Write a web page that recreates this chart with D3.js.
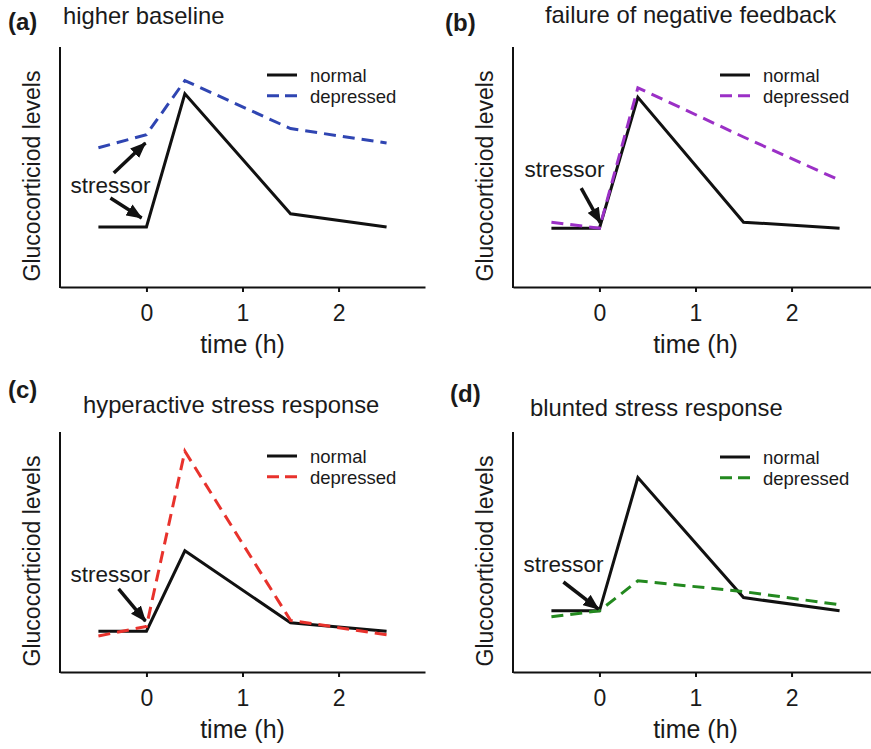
<!DOCTYPE html>
<html>
<head>
<meta charset="utf-8">
<script src="https://cdn.jsdelivr.net/npm/d3@7"></script>
<style>
  body { margin: 0; background: #fff; }
  text { font-family: "Liberation Sans", Arial, sans-serif; fill: #1a1a1a; }
</style>
</head>
<body>
<div id="chart"></div>
<script>
// time points (h) shared by every curve
const times = [-0.5, 0, 0.4, 1.5, 2.5]
const xTicks = [0, 1, 2]

const panelLabels = ['(a)', '(b)', '(c)', '(d)']
const panelTitles = ['higher baseline', 'failure of negative feedback',
  'hyperactive stress response', 'blunted stress response']
const seriesNames = ['normal', 'depressed']

// glucocorticoid levels (arbitrary units 0-10)
const normalA = [2.5, 2.5, 8.05, 3.05, 2.5]
const depressedA = [5.8, 6.35, 8.6, 6.6, 6.0]
const normalB = [2.45, 2.45, 7.9, 2.7, 2.45]
const depressedB = [2.7, 2.45, 8.3, 6.25, 4.45]
const normalC = [1.7, 1.7, 5.05, 2.05, 1.7]
const depressedC = [1.5, 1.9, 9.2, 2.15, 1.55]
const normalD = [2.55, 2.55, 8.1, 3.1, 2.55]
const depressedD = [2.3, 2.55, 3.8, 3.35, 2.8]

const depressedColors = ['#2f45b2', '#9b30c6', '#e8322c', '#23891f']

// stressor arrows: [tailTime, tailLevel, tipTime, tipLevel]
const arrowsA = [[-0.34, 4.75, -0.01, 6.0], [-0.375, 3.71, -0.05, 2.875]]
const arrowsB = [[-0.19, 4.12, 0.01, 2.67]]
const arrowsC = [[-0.29, 3.46, -0.01, 2.12]]
const arrowsD = [[-0.375, 3.75, -0.01, 2.62]]
// "stressor" label anchor: [time, level]
const stressorPos = [[-0.79, 3.92], [-0.78, 4.58], [-0.79, 3.75], [-0.79, 4.17]]

const normals = [normalA, normalB, normalC, normalD]
const depresseds = [depressedA, depressedB, depressedC, depressedD]
const arrows = [arrowsA, arrowsB, arrowsC, arrowsD]

// layout: origin = top of y axis
const layout = [
  {x: 60, y: 47, lab: [-52, -17], title: [3, -23], legY: 28},
  {x: 513, y: 47, lab: [-68, -16], title: [32, -24], legY: 28},
  {x: 60, y: 432, lab: [-52, -34], title: [23, -19], legY: 24},
  {x: 513, y: 432, lab: [-63, -30], title: [17, -16], legY: 25}
]

const W = 871, H = 749
const plotW = 365, plotH = 240
const legGap = 20.8

const svg = d3.select('#chart').append('svg')
  .attr('width', W).attr('height', H)

svg.append('rect').attr('width', W).attr('height', H).attr('fill', '#fff')

svg.append('defs').append('marker')
  .attr('id', 'head')
  .attr('markerUnits', 'userSpaceOnUse')
  .attr('viewBox', '0 0 16 13')
  .attr('refX', 15).attr('refY', 6.5)
  .attr('markerWidth', 16).attr('markerHeight', 13)
  .attr('orient', 'auto')
  .append('path')
  .attr('d', 'M0,0 L16,6.5 L0,13 Z')
  .attr('fill', '#111')

const x = d3.scaleLinear().domain([-0.9, 2.9]).range([0, plotW])
const y = d3.scaleLinear().domain([0, 10]).range([plotH, 0])

const line = d3.line()
  .x((d, i) => x(times[i]))
  .y(d => y(d))

function drawPanel(i) {
  const L = layout[i]
  const g = svg.append('g').attr('transform', `translate(${L.x},${L.y})`)

  g.append('text')
    .attr('x', L.lab[0]).attr('y', L.lab[1])
    .attr('font-size', 24).attr('font-weight', 'bold')
    .text(panelLabels[i])

  g.append('text')
    .attr('x', L.title[0]).attr('y', L.title[1])
    .attr('font-size', 23.8)
    .text(panelTitles[i])

  // axes
  const xAxis = g.append('g')
    .attr('transform', `translate(0,${plotH})`)
    .call(d3.axisBottom(x).tickValues(xTicks).tickFormat(d3.format('d'))
      .tickSize(5).tickSizeOuter(0).tickPadding(13))
  xAxis.select('.domain').attr('stroke', '#111').attr('stroke-width', 2)
  xAxis.selectAll('.tick line').attr('stroke', '#111').attr('stroke-width', 2)
  xAxis.selectAll('.tick text')
    .attr('font-size', 23).attr('font-family', '"Liberation Sans", Arial, sans-serif')
    .attr('fill', '#1a1a1a')

  g.append('line')
    .attr('x1', 0).attr('x2', 0).attr('y1', 0).attr('y2', plotH + 1)
    .attr('stroke', '#111').attr('stroke-width', 2)

  g.append('text')
    .attr('x', plotW / 2).attr('y', plotH + 66)
    .attr('text-anchor', 'middle').attr('font-size', 25)
    .text('time (h)')

  g.append('text')
    .attr('transform', `translate(-20,${plotH / 2 + 9}) rotate(-90)`)
    .attr('text-anchor', 'middle').attr('font-size', 23)
    .text('Glucocorticiod levels')

  // curves
  g.append('path')
    .attr('d', line(normals[i]))
    .attr('fill', 'none').attr('stroke', '#111').attr('stroke-width', 3)

  g.append('path')
    .attr('d', line(depresseds[i]))
    .attr('fill', 'none').attr('stroke', depressedColors[i]).attr('stroke-width', 3)
    .attr('stroke-dasharray', '12,7')

  // stressor annotation
  g.append('text')
    .attr('x', x(stressorPos[i][0])).attr('y', y(stressorPos[i][1]))
    .attr('font-size', 22.5)
    .text('stressor')

  g.selectAll('.arrow')
    .data(arrows[i])
    .enter()
    .append('line')
    .attr('class', 'arrow')
    .attr('x1', d => x(d[0])).attr('y1', d => y(d[1]))
    .attr('x2', d => x(d[2])).attr('y2', d => y(d[3]))
    .attr('stroke', '#111').attr('stroke-width', 3.5)
    .attr('marker-end', 'url(#head)')

  // legend
  const leg = g.append('g').attr('transform', `translate(207,${L.legY})`)
  seriesNames.forEach((name, k) => {
    leg.append('line')
      .attr('x1', 0).attr('x2', 30)
      .attr('y1', k * legGap).attr('y2', k * legGap)
      .attr('stroke', k === 0 ? '#111' : depressedColors[i])
      .attr('stroke-width', 3)
      .attr('stroke-dasharray', k === 0 ? null : '12,6')
    leg.append('text')
      .attr('x', 43).attr('y', k * legGap + 7)
      .attr('font-size', 18.5)
      .text(name)
  })
}

for (let i = 0; i < 4; i++) drawPanel(i)
</script>
</body>
</html>
